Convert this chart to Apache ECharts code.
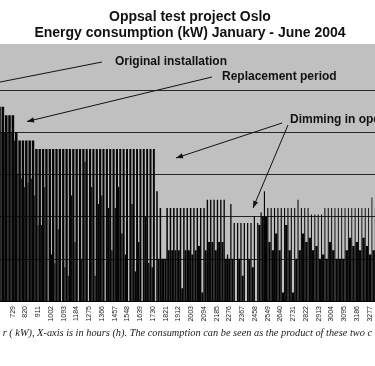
<!DOCTYPE html>
<html><head><meta charset="utf-8">
<script src="https://cdn.jsdelivr.net/npm/echarts@6/dist/echarts.min.js"></script>
<style>html,body{margin:0;padding:0;background:#fff}#c{width:375px;height:366px}</style>
</head><body><div id="c"></div>
<script>
// ---- data ----
const titleLines = ['Oppsal test project Oslo', 'Energy consumption (kW) January - June 2004'];
const annotations = ['Original installation', 'Replacement period', 'Dimming in operation'];
const caption = 'r ( kW), X-axis is in hours (h). The consumption can be seen as the product of these two c';
const tickHours = [729, 820, 911, 1002, 1093, 1184, 1275, 1366, 1457, 1548, 1639, 1730, 1821, 1912, 2003,
  2094, 2185, 2276, 2367, 2458, 2549, 2640, 2731, 2822, 2913, 3004, 3095, 3186, 3277];
const firstDay = 27;   // day of year of the first (partly) visible day
// hours per day at full power (night)
const onHours = [18.5,18.5,18.5,18,18,18,18,17.5,17.5,17.5,17.5,
  17.5,17,17,17,17,17,16.5,16.5,16.5,16.5,16,16,
  16,16,16,15.5,15.5,15.5,15.5,15.5,15,15,15,15,
  15,14.5,14.5,14.5,14.5,14.5,14,14,14,14,14,14,
  11,11,11,11,11,11,10.5,10.5,10.5,10.5,10.5,10,
  10,10,10,10,9.5,9.5,9.5,9.5,9.5,9,9,9,
  9,9,9,8.5,8.5,8.5,8.5,8.5,8,8,8,8,
  8,8,7.5,7.5,7.5,7.5,7.5,7.5,7,7,7,7,
  7,7,7,7,7,6.5,6.5,6.5,6.5,6.5,6.5,6.5,
  6.5,6.5,6.5,6,6,6];
// full-power level, kW
const peakKw = [46,46,44,44,44,40,38,38,38,38,38,
  36,36,36,36,36,36,36,36,36,36,36,36,
  36,36,36,36,36,36,36,36,36,36,36,36,
  36,36,36,36,36,36,36,36,36,36,36,36,
  26,22,10,22,22,22,22,22,22,22,22,22,
  22,22,22,24,24,24,24,24,24,11,23,18.5,
  18.5,18.5,18.5,18.5,18.5,20,18.5,21,26,22,22,22,
  22,22,22,22,22,22,24,22,22,22,20.5,20.5,
  20.5,20.5,22,22,22,22,22,22,22,22,22,22,
  22,22,22,22,24.5,22];
// remaining-hours level, kW
const lowKw = [40,40,40,40,38,30,29,27,28,29,25,
  18,18,27,0,11,9,17,0,8,6,25,14,
  0,10,33,0,27,6,23,25,0,22,12,22,
  27,16,11,0,23,7,14,0,20,9,8,0,
  10,10,10,12,12,12,12,3,12,12,11,12,
  13,2,12,14,14,12,14,14,10,10,10,0,
  10,6,0,10,8,0,18,20,20,14,12,16,
  12,2,18,12,2,10,12,16,14,15,12,13,
  10,11,10,14,12,10,10,10,12,15,13,14,
  12,15,13,11,12,14];

// ---- build ----
const firstHour = (firstDay - 1) * 24 + 1;
const dayData = onHours.map((on, k) => [firstHour + 24 * k, on, peakKw[k], lowKw[k]]);
const step = tickHours[1] - tickHours[0];

function renderDay(params, api) {
  const h = api.value(0), on = api.value(1), peak = api.value(2), low = api.value(3);
  const base = api.coord([h, 0]);
  const a = api.coord([h + on, peak]);
  const b = api.coord([h + 24, low]);
  const fill = '#050505';
  return { type: 'group', children: [
    { type: 'rect', shape: { x: base[0], y: a[1], width: a[0] - base[0], height: base[1] - a[1] }, style: { fill } },
    { type: 'rect', shape: { x: a[0], y: b[1], width: b[0] - a[0], height: base[1] - b[1] }, style: { fill } }
  ]};
}

function arrow(x1, y1, x2, y2, head) {
  const els = [{ type: 'line', shape: { x1, y1, x2, y2 }, style: { stroke: '#111', lineWidth: 1 }, z: 100 }];
  if (head) {
    const dx = x2 - x1, dy = y2 - y1, L = Math.hypot(dx, dy);
    const ux = dx / L, uy = dy / L, len = 7, hw = 2.6;
    const bx = x2 - ux * len, by = y2 - uy * len;
    els.push({ type: 'polygon', shape: { points: [[x2, y2], [bx - uy * hw, by + ux * hw], [bx + uy * hw, by - ux * hw]] },
      style: { fill: '#111' }, z: 100 });
  }
  return els;
}
const annFont = { fontFamily: 'Liberation Sans, Arial, sans-serif', fontWeight: 'bold', fontSize: 12, fill: '#111' };

const chart = echarts.init(document.getElementById('c'), null, { renderer: 'canvas' });
chart.setOption({
  backgroundColor: '#ffffff',
  animation: false,
  title: {
    text: titleLines.join('\n'),
    left: 190, top: 9, textAlign: 'center', padding: 0,
    textStyle: { fontFamily: 'Liberation Sans, Arial, sans-serif', fontWeight: 'bold', fontSize: 14, lineHeight: 16, color: '#111' }
  },
  grid: { left: -2, right: 0, top: 47.7, bottom: 65, show: true, backgroundColor: '#c0c0c0', borderWidth: 0 },
  xAxis: {
    type: 'value', min: tickHours[0] - step, max: 3314, interval: step,
    axisLine: { show: true, lineStyle: { color: '#000', width: 1 } },
    axisTick: { show: false },
    splitLine: { show: false },
    axisLabel: {
      rotate: 90, fontSize: 7, color: '#222', margin: 5,
      fontFamily: 'Liberation Sans, Arial, sans-serif',
      formatter: v => tickHours.includes(v) ? String(v) : ''
    }
  },
  yAxis: {
    type: 'value', min: 0, max: 60, interval: 10,
    axisLine: { show: false }, axisTick: { show: false }, axisLabel: { show: false },
    splitLine: { show: true, showMaxLine: false, lineStyle: { color: '#262626', width: 1.2 } }
  },
  series: [{
    type: 'custom', renderItem: renderDay, clip: true,
    encode: { x: [0], y: [2] },
    data: dayData
  }],
  graphic: [
    { type: 'rect', shape: { x: 0, y: 44, width: 375, height: 4 }, style: { fill: '#c0c0c0' }, z: -1 },
    { type: 'text', x: 115, y: 62, style: Object.assign({ text: annotations[0], verticalAlign: 'middle' }, annFont), z: 100 },
    { type: 'text', x: 222, y: 77, style: Object.assign({ text: annotations[1], verticalAlign: 'middle' }, annFont), z: 100 },
    { type: 'text', x: 290, y: 120, style: Object.assign({ text: annotations[2], verticalAlign: 'middle' }, annFont), z: 100 },
    ...arrow(102, 62, -20, 86, false),
    ...arrow(212, 77, 27, 121.5, true),
    ...arrow(282, 123, 176, 158, true),
    ...arrow(288, 125, 253, 208, true),
    { type: 'text', x: 372, y: 333.5, style: { text: caption, align: 'right', verticalAlign: 'middle',
      fontFamily: 'Liberation Serif, Times New Roman, serif', fontStyle: 'italic', fontSize: 10.35, fill: '#1a1a1a' }, z: 100 }
  ]
});
</script></body></html>
